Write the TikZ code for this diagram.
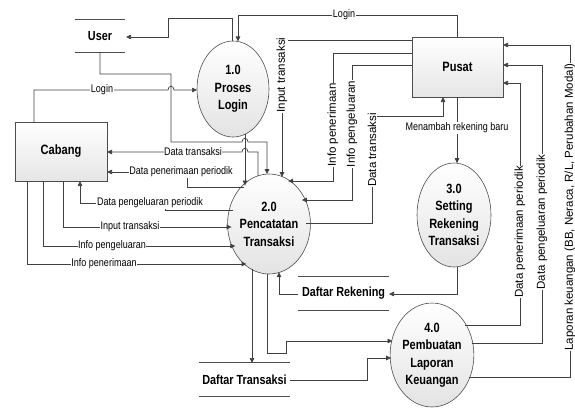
\documentclass[tikz,border=0pt]{standalone}
\usepackage{fontspec}
\setmainfont{Liberation Sans}[FakeStretch=0.82]
\newfontfamily\vfont{Liberation Sans}
\usetikzlibrary{arrows.meta,shapes.geometric}
\begin{document}
\begin{tikzpicture}[x=1pt,y=-1pt,line width=0.7pt,
  flow/.style={draw=black!75,-{Triangle[length=5pt,width=4.5pt]}},
  proc/.style={ellipse,draw=black!70,line width=0.6pt,top color=white,bottom color=black!11,inner sep=0pt,align=center,font=\fontsize{13.4}{17.5}\selectfont\bfseries},
  ent/.style={rectangle,draw=black!70,line width=0.6pt,top color=white,bottom color=black!10,inner sep=0pt,font=\fontsize{13.5}{16}\selectfont\bfseries},
  store/.style={inner sep=0pt,font=\fontsize{13.2}{16}\selectfont\bfseries},
  storeline/.style={draw=black!70,line width=0.8pt},
  lbl/.style={fill=white,inner sep=0.6pt,font=\fontsize{11}{13}\selectfont},
  vlbl/.style={fill=white,inner sep=0.6pt,rotate=90,font=\vfont\fontsize{11.5}{13}\selectfont},
  declare function={
    Atop(\x)=89-48*sqrt(1-((\x-233)/36)^2);
    Abot(\x)=89+48*sqrt(1-((\x-233)/36)^2);
    Btop(\x)=224-50*sqrt(1-((\x-269)/37.5)^2);
    Bbot(\x)=224+50*sqrt(1-((\x-269)/37.5)^2);
    Bleft(\y)=269-37.5*sqrt(1-((\y-224)/50)^2);
    Bright(\y)=269+37.5*sqrt(1-((\y-224)/50)^2);
    Ctop(\x)=215-52*sqrt(1-((\x-454)/37)^2);
    Cbot(\x)=215+52*sqrt(1-((\x-454)/37)^2);
    Dleft(\y)=432-41*sqrt(1-((\y-355)/52)^2);
    Dright(\y)=432+41*sqrt(1-((\y-355)/52)^2);
  }]
\useasboundingbox (0,0) rectangle (575,410);

% processes
\node[proc,minimum width=72pt,minimum height=96pt] (p1) at (233,89) {1.0\\Proses\\Login};
\node[proc,minimum width=75pt,minimum height=100pt] (p2) at (269,224) {2.0\\Pencatatan\\Transaksi};
\node[proc,minimum width=74pt,minimum height=104pt] (p3) at (454,215) {3.0\\Setting\\Rekening\\Transaksi};
\node[proc,minimum width=82pt,minimum height=104pt] (p4) at (432,355) {4.0\\Pembuatan\\Laporan\\Keuangan};

% entities
\node[ent,minimum width=91pt,minimum height=60pt] (pusat) at (457.5,67) {Pusat};
\node[ent,minimum width=92pt,minimum height=59pt] (cabang) at (61,151.5) {Cabang};

% stores
\node[store,minimum width=50pt,minimum height=32pt] (user) at (100,36) {User};
\draw[storeline] (user.north west) -- (user.north east) (user.south west) -- (user.south east);
\node[store,minimum width=91pt,minimum height=33pt] (drek) at (343.5,293.5) {Daftar Rekening};
\draw[storeline] (drek.north west) -- (drek.north east) (drek.south west) -- (drek.south east);
\node[store,minimum width=91pt,minimum height=33pt] (dtrx) at (244.5,379.5) {Daftar Transaksi};
\draw[storeline] (dtrx.north west) -- (dtrx.north east) (dtrx.south west) -- (dtrx.south east);

% connectors
\draw[flow] (457,37) -- (457,15) -- (238,15) -- (238,{Atop(238)});
\draw[flow] (232,{Atop(232)}) -- (232,18) -- (168,18) -- (168,37) -- (126,37);
\draw[flow] (100,52) -- (100,74) -- (171,74) -- (171,142) -- (242,142) .. controls (242,137) and (248,137) .. (248,142) -- (267,142) -- (267,{Btop(267)});
\draw[flow] (34,122) -- (34,90) -- (168,90) .. controls (168,85) and (174,85) .. (174,90) -- (197,90);
\draw[flow] (245,{Abot(245)}) -- (245,{Btop(245)});
\draw[flow] (258,{Btop(258)}) -- (258,152) -- (248,152) .. controls (248,147) and (242,147) .. (242,152) -- (107,152);
\draw[flow] ({Bleft(187)},187) -- (187,187) -- (187,172) -- (107,172);
\draw[flow] ({Bleft(210)},210) -- (165,210) -- (165,203) -- (80,203) -- (80,181);
\draw[flow] (63,181) -- (63,227) -- ({Bleft(227)},227);
\draw[flow] (43,181) -- (43,246) -- ({Bleft(246)},246);
\draw[flow] (27,181) -- (27,264) -- ({Bleft(264)},264);
\draw[flow] (412,40) -- (282,40) -- (282,{Btop(282)});
\draw[flow] (412,53) -- (333,53) -- (333,181) -- ({Bright(181)},181);
\draw[flow] (412,65) -- (352,65) -- (352,200) -- ({Bright(200)},200);
\draw[flow] ({Bright(223)},223) -- (372,223) -- (372,116) -- (443,116) -- (443,97);
\draw[flow] (457,97) -- (457,{Ctop(457)});
\draw[flow] (457,{Cbot(457)}) -- (457,294) -- (389,294);
\draw[flow] (298,294) -- (279,294) -- (279,{Bbot(279)});
\draw[flow] (252,{Bbot(252)}) -- (252,363);
\draw[flow] (267,{Bbot(267)}) -- (267,353) -- (286,353) -- (286,341) -- ({Dleft(341)},341);
\draw[flow] (290,380) -- (367,380) -- (367,358) -- ({Dleft(358)},358);
\draw[flow] ({Dright(325)},325) -- (520,325) -- (520,83) -- (503,83);
\draw[flow] ({Dright(343)},343) -- (542,343) -- (542,65) -- (503,65);
\draw[flow] ({Dright(377)},377) -- (570,377) -- (570,45) -- (503,45);

% labels
\node[lbl] (l1) at (344,15) {Login};
\node[lbl] (l2) at (102,90) {Login};
\node[lbl] (l3) at (193,152) {Data transaksi};
\node[lbl] (l4) at (181,172) {Data penerimaan periodik};
\node[lbl] (l5) at (150,203) {Data pengeluaran periodik};
\node[lbl] (l6) at (130,227) {Input transaksi};
\node[lbl] (l7) at (112,246) {Info pengeluaran};
\node[lbl] (l8) at (104,264) {Info penerimaan};
\node[lbl] (l9) at (457,128) {Menambah rekening baru};
\node[vlbl] (v1) at (282,75) {Input transaksi};
\node[vlbl] (v2) at (333,125) {Info penerimaan};
\node[vlbl] (v3) at (352,124) {Info pengeluaran};
\node[vlbl] (v4) at (372,150) {Data transaksi};
\node[vlbl] (v5) at (520,232) {Data penerimaan periodik};
\node[vlbl] (v6) at (542,222) {Data pengeluaran periodik};
\node[vlbl] (v7) at (570,207) {Laporan keuangan (BB, Neraca, R/L, Perubahan Modal)};
\end{tikzpicture}
\end{document}
